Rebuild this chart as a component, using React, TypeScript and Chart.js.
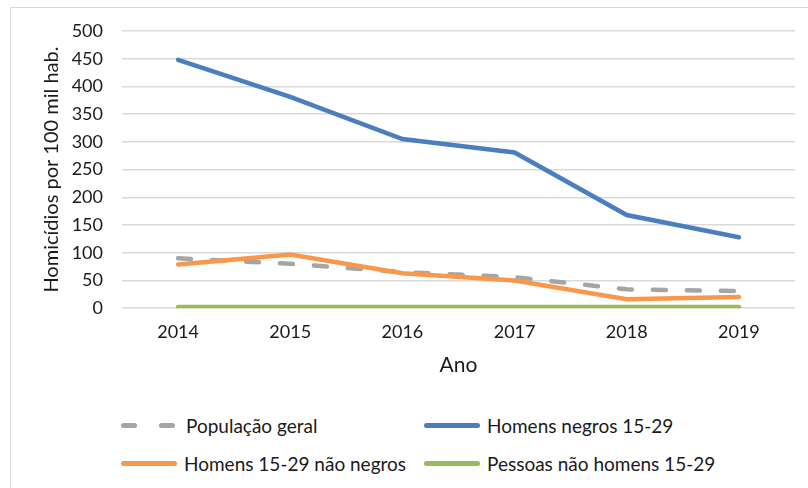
import React, { useEffect, useRef } from "react";
import { Chart, registerables } from "chart.js";

Chart.register(...registerables);

const years = ["2014", "2015", "2016", "2017", "2018", "2019"];
const populacaoGeral = [90, 80, 65, 56, 34, 31];
const homensNegros = [448, 381, 305, 281, 168, 128];
const homensNaoNegros = [79, 97, 63, 50, 16, 20];
const pessoasNaoHomens = [2, 2, 2, 2, 2, 2];
const yTicks = [0, 50, 100, 150, 200, 250, 300, 350, 400, 450, 500];

const FONT = "Lato, 'Noto Sans', sans-serif";
const TEXT = "#1a1a1a";

const legendItems = [
  { label: "População geral", color: "#A5A5A5", dashed: true },
  { label: "Homens negros 15-29", color: "#4A7EBF", dashed: false },
  { label: "Homens 15-29 não negros", color: "#F9974A", dashed: false },
  { label: "Pessoas não homens 15-29", color: "#9BBB59", dashed: false },
];

function Marker({ color, dashed }: { color: string; dashed: boolean }) {
  if (dashed) {
    return (
      <span style={{ display: "inline-flex", flexShrink: 0, width: 54, justifyContent: "space-between", marginRight: 11 }}>
        <span style={{ width: 16, height: 5, borderRadius: 3, background: color }} />
        <span style={{ width: 16, height: 5, borderRadius: 3, background: color }} />
      </span>
    );
  }
  return (
    <span
      style={{ width: 56, height: 5, borderRadius: 3, background: color, marginRight: 7, display: "inline-block", flexShrink: 0 }}
    />
  );
}

export default function App() {
  const ref = useRef<HTMLCanvasElement | null>(null);
  useEffect(() => {
    if (!ref.current) return;
    const chart = new Chart(ref.current, {
      type: "line",
      data: {
        labels: years,
        datasets: [
          {
            label: "População geral",
            data: populacaoGeral,
            borderColor: "#A5A5A5",
            borderWidth: 4.5,
            borderDash: [13, 21],
            borderCapStyle: "round",
            pointRadius: 0,
            tension: 0,
            order: 3,
          },
          {
            label: "Homens negros 15-29",
            data: homensNegros,
            borderColor: "#4A7EBF",
            borderWidth: 4.5,
            borderCapStyle: "round",
            pointRadius: 0,
            tension: 0,
            order: 2,
          },
          {
            label: "Homens 15-29 não negros",
            data: homensNaoNegros,
            borderColor: "#F9974A",
            borderWidth: 4.5,
            borderCapStyle: "round",
            pointRadius: 0,
            tension: 0,
            order: 1,
          },
          {
            label: "Pessoas não homens 15-29",
            data: pessoasNaoHomens,
            borderColor: "#9BBB59",
            borderWidth: 4.5,
            borderCapStyle: "round",
            pointRadius: 0,
            tension: 0,
            order: 0,
          },
        ],
      },
      options: {
        animation: false,
        responsive: false,
        maintainAspectRatio: false,
        layout: { padding: { top: 31, right: 13, left: 40, bottom: 7 } },
        plugins: { legend: { display: false }, tooltip: { enabled: false } },
        scales: {
          x: {
            offset: true,
            grid: { display: false, drawTicks: false },
            border: { display: false },
            ticks: { color: TEXT, font: { family: FONT, size: 18 }, padding: 13 },
            title: { display: true, text: "Ano", color: TEXT, font: { family: FONT, size: 21 }, padding: { top: -3, bottom: 0 } },
          },
          y: {
            min: 0,
            max: 500,
            afterBuildTicks: (axis: any) => {
              axis.ticks = yTicks.map((v) => ({ value: v }));
            },
            afterFit: (axis: any) => {
              axis.width = 82;
            },
            grid: { color: "#D9D9D9", lineWidth: 1.5, drawTicks: false },
            border: { display: false },
            ticks: { color: TEXT, font: { family: FONT, size: 18 }, padding: 19 },
            title: {
              display: true,
              text: "Homicídios por 100 mil hab.",
              color: TEXT,
              font: { family: FONT, size: 20 },
              padding: { top: 0, bottom: 8 },
            },
          },
        },
      },
    });
    return () => chart.destroy();
  }, []);

  return (
    <div style={{ position: "fixed", left: 0, top: 0, width: 808, height: 488, background: "#fff", overflow: "hidden", fontFamily: FONT }}>
      <div
        style={{
          position: "absolute",
          left: 10,
          top: 7,
          width: 820,
          height: 500,
          borderLeft: "1.5px solid #D9D9D9",
          borderTop: "1.5px solid #D9D9D9",
        }}
      />
      <canvas ref={ref} width={808} height={385} style={{ position: "absolute", left: 0, top: 0 }} />
      <div
        style={{
          position: "absolute",
          left: 121,
          top: 409,
          display: "grid",
          gridTemplateColumns: "303px 320px",
          rowGap: 6,
          fontSize: 19,
          color: TEXT,
        }}
      >
        {legendItems.map((it) => (
          <div key={it.label} style={{ display: "flex", alignItems: "center", height: 32, whiteSpace: "nowrap" }}>
            <Marker color={it.color} dashed={it.dashed} />
            <span>{it.label}</span>
          </div>
        ))}
      </div>
    </div>
  );
}
